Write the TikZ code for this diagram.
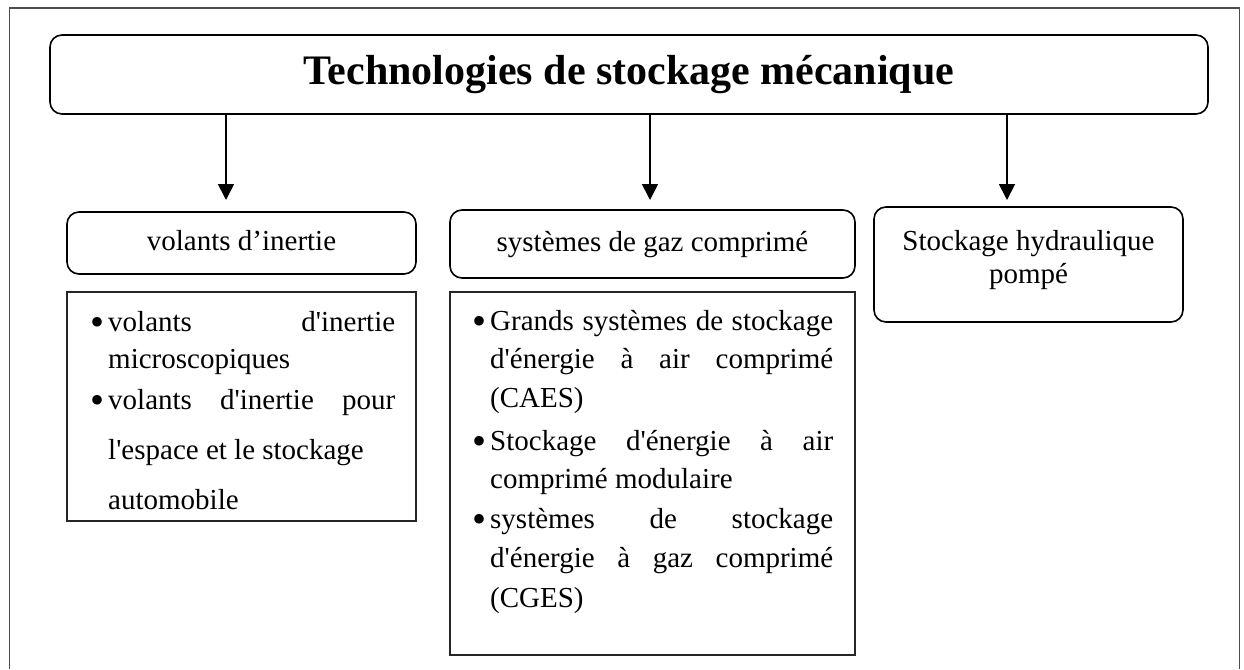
\documentclass[tikz,border=0pt]{standalone}
\usepackage{fontspec}
\setmainfont{Liberation Serif}[Ligatures=TeXOff]
\usetikzlibrary{arrows.meta}

% bullet hung in the left margin of an item
\newcommand\bul{\llap{\raisebox{-4pt}{\fontsize{40}{40}\selectfont\textbullet}\kern4pt}}
% a justified line of the given width
\newcommand\jline[2]{\hbox{\makebox[#1][s]{#2}}}

\begin{document}
\begin{tikzpicture}[x=1pt,y=-1pt,
  frame/.style={draw=black!70, line width=1.3pt},
  roundbox/.style={draw, line width=1.6pt, rounded corners=12pt, inner sep=0pt},
  listbox/.style={draw=black!85, line width=1.5pt, inner sep=0pt},
  link/.style={line width=1.8pt, -{Triangle[width=16pt,length=16pt]}},
  body/.style={font=\fontsize{29}{33}\selectfont},
  headtext/.style={body, text height=20pt, text depth=6pt},
  itemtext/.style={body, anchor=base west, inner sep=0pt}
]
\useasboundingbox (0,0) rectangle (1244,669);

% page frame, open at the bottom
\coordinate (fbl) at (9.5,669);
\coordinate (ftl) at (9.5,8);
\coordinate (ftr) at (1239.5,8);
\coordinate (fbr) at (1239.5,669);
\draw[frame] (fbl) -- (ftl) -- (ftr) -- (fbr);

% title
\node[roundbox, minimum width=1158pt, minimum height=79pt,
      font=\fontsize{42}{48}\selectfont\bfseries] (title) at (629,74.5)
      {Technologies de stockage mécanique};

% category headers
\node[roundbox, headtext, minimum width=349pt, minimum height=62pt] (h1) at (241.5,243) {volants d’inertie};
\node[roundbox, headtext, minimum width=405pt, minimum height=68pt] (h2) at (652.5,244) {systèmes de gaz comprimé};
\node[roundbox, minimum width=309pt, minimum height=115pt] (h3) at (1028.5,264.5) {};
\node[body, anchor=base, inner sep=0pt] (h3t) at (h3.center |- 0,250)
  {\vtop{\baselineskip=33pt \halign{\hfil#\hfil\cr Stockage hydraulique\cr pompé\cr}}};

% arrows from the title
\coordinate (e1) at (226,200);
\coordinate (e2) at (650,200);
\coordinate (e3) at (1007,200);
\draw[link] (title.south -| e1) -- (e1);
\draw[link] (title.south -| e2) -- (e2);
\draw[link] (title.south -| e3) -- (e3);

% detail boxes
\node[listbox, minimum width=349pt, minimum height=229pt] (b1) at (241.5,406.5) {};
\node[listbox, minimum width=405pt, minimum height=363pt] (b2) at (652.5,473.5) {};

% flywheel items
\node[itemtext] (i11) at (108,331)
  {\vtop{\baselineskip=37.5pt
    \hbox{\bul\makebox[287pt][s]{volants d'inertie}}
    \hbox{microscopiques}}};
\node[itemtext] (i12) at (108,409.5)
  {\vtop{\baselineskip=50pt
    \hbox{\bul\makebox[287pt][s]{volants d'inertie pour}}
    \hbox{l'espace et le stockage}
    \hbox{automobile}}};

% compressed gas items
\node[itemtext] (i21) at (490,330)
  {\vtop{\baselineskip=38.5pt
    \hbox{\bul\makebox[343pt][s]{Grands systèmes de stockage}}
    \jline{343pt}{d'énergie à air comprimé}
    \hbox{(CAES)}}};
\node[itemtext] (i22) at (490,450)
  {\vtop{\baselineskip=38pt
    \hbox{\bul\makebox[343pt][s]{Stockage d'énergie à air}}
    \hbox{comprimé modulaire}}};
\node[itemtext] (i23) at (490,528)
  {\vtop{\baselineskip=39.5pt
    \hbox{\bul\makebox[343pt][s]{systèmes de stockage}}
    \jline{343pt}{d'énergie à gaz comprimé}
    \hbox{(CGES)}}};
\end{tikzpicture}
\end{document}
